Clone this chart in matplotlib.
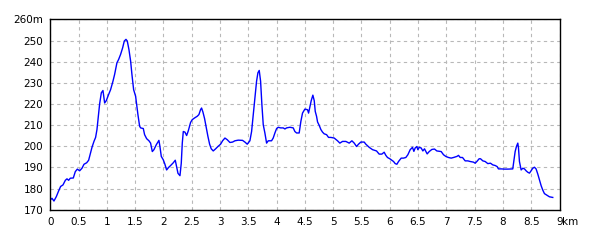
import matplotlib
matplotlib.use("Agg")
import matplotlib.pyplot as plt

# distance along route (km) and elevation (m)
dist_km = [
    0.000, 0.030, 0.065, 0.107, 0.148, 0.183, 0.224, 0.266, 0.295, 0.324,
    0.354, 0.407, 0.442, 0.478, 0.519, 0.560, 0.596, 0.643, 0.678, 0.707,
    0.737, 0.772, 0.801, 0.825, 0.843, 0.872, 0.902, 0.931, 0.961, 0.990,
    1.031, 1.066, 1.108, 1.137, 1.178, 1.208, 1.243, 1.279, 1.308, 1.338,
    1.361, 1.390, 1.420, 1.443, 1.473, 1.508, 1.549, 1.579, 1.597, 1.644,
    1.667, 1.703, 1.744, 1.773, 1.803, 1.832, 1.873, 1.920, 1.938, 1.962,
    1.997, 2.026, 2.056, 2.091, 2.127, 2.174, 2.209, 2.233, 2.257, 2.292,
    2.315, 2.333, 2.351, 2.380, 2.410, 2.439, 2.480, 2.509, 2.550, 2.597,
    2.627, 2.657, 2.674, 2.698, 2.727, 2.757, 2.786, 2.816, 2.845, 2.880,
    2.922, 2.963, 3.010, 3.045, 3.087, 3.128, 3.175, 3.222, 3.263, 3.322,
    3.398, 3.440, 3.481, 3.528, 3.558, 3.587, 3.617, 3.646, 3.670, 3.693,
    3.717, 3.740, 3.764, 3.793, 3.823, 3.852, 3.911, 3.940, 3.970, 4.000,
    4.029, 4.070, 4.117, 4.147, 4.176, 4.235, 4.294, 4.323, 4.353, 4.399,
    4.429, 4.458, 4.500, 4.547, 4.565, 4.588, 4.612, 4.641, 4.665, 4.683,
    4.706, 4.724, 4.753, 4.783, 4.812, 4.841, 4.883, 4.918, 4.959, 5.018,
    5.077, 5.118, 5.165, 5.224, 5.283, 5.331, 5.372, 5.413, 5.448, 5.489,
    5.548, 5.577, 5.637, 5.696, 5.766, 5.813, 5.860, 5.901, 5.931, 5.960,
    6.001, 6.037, 6.067, 6.096, 6.126, 6.155, 6.202, 6.243, 6.284, 6.320,
    6.361, 6.402, 6.426, 6.449, 6.479, 6.496, 6.520, 6.555, 6.585, 6.614,
    6.661, 6.697, 6.744, 6.791, 6.832, 6.909, 6.950, 6.991, 7.038, 7.085,
    7.127, 7.186, 7.215, 7.245, 7.286, 7.333, 7.380, 7.421, 7.480, 7.509,
    7.539, 7.580, 7.604, 7.645, 7.686, 7.733, 7.780, 7.821, 7.863, 7.898,
    7.921, 7.968, 8.028, 8.087, 8.174, 8.192, 8.216, 8.239, 8.263, 8.275,
    8.292, 8.322, 8.351, 8.381, 8.410, 8.440, 8.469, 8.498, 8.527, 8.557,
    8.586, 8.617, 8.645, 8.675, 8.704, 8.734, 8.775, 8.822, 8.881,
]
elev_m = [
    174.6, 175.4, 174.1, 176.2, 178.9, 181.0, 181.7, 183.9, 184.6, 183.9,
    184.9, 185.0, 188.0, 189.2, 188.4, 189.6, 191.5, 192.2, 193.4, 196.3,
    199.5, 202.3, 204.2, 207.9, 212.4, 220.0, 225.3, 226.4, 220.5, 221.6,
    224.5, 226.8, 230.8, 234.0, 239.5, 241.1, 243.5, 246.6, 249.8, 250.6,
    249.8, 245.8, 240.3, 234.0, 226.8, 223.7, 215.0, 209.5, 208.7, 208.4,
    205.5, 203.6, 202.6, 201.5, 197.5, 198.4, 200.7, 202.8, 199.9, 195.2,
    193.6, 191.5, 188.8, 190.0, 190.9, 192.2, 193.4, 190.4, 187.2, 186.1,
    192.0, 201.5, 207.0, 206.7, 205.1, 207.3, 211.3, 212.6, 213.4, 214.2,
    215.0, 217.4, 218.1, 216.2, 213.1, 208.7, 204.7, 201.0, 198.8, 197.8,
    198.8, 199.9, 201.0, 202.6, 203.9, 203.1, 201.8, 202.0, 202.6, 202.9,
    202.8, 202.0, 201.0, 202.6, 207.0, 215.0, 222.9, 230.8, 234.8, 235.9,
    230.8, 219.7, 210.2, 206.3, 201.5, 202.6, 202.6, 203.9, 206.3, 208.4,
    209.0, 208.7, 208.7, 208.2, 208.7, 209.0, 208.7, 207.0, 206.3, 206.3,
    211.8, 215.7, 217.6, 217.3, 215.7, 218.5, 221.6, 224.2, 221.6, 216.5,
    214.2, 211.5, 209.9, 207.9, 206.7, 205.9, 205.5, 204.2, 204.2, 203.9,
    202.6, 201.5, 202.3, 202.3, 201.5, 202.6, 201.5, 199.9, 201.0, 202.0,
    202.0, 201.0, 199.5, 198.4, 197.8, 196.3, 196.3, 197.2, 195.7, 194.7,
    194.1, 193.4, 192.8, 191.8, 191.5, 192.8, 194.4, 194.4, 194.7, 196.0,
    198.4, 199.5, 197.6, 199.2, 199.9, 198.4, 199.5, 199.2, 197.8, 198.8,
    196.4, 197.5, 198.5, 198.7, 197.8, 197.5, 196.0, 195.2, 194.7, 194.4,
    194.7, 195.2, 195.7, 194.7, 194.7, 193.1, 193.1, 192.8, 192.5, 192.0,
    192.8, 194.1, 194.1, 193.1, 192.8, 191.8, 192.0, 191.2, 190.9, 190.4,
    189.3, 189.3, 189.2, 189.2, 189.3, 192.8, 197.5, 199.9, 201.5, 199.2,
    192.8, 188.8, 189.6, 189.3, 188.4, 187.7, 187.3, 188.4, 189.6, 190.1,
    189.3, 186.8, 184.1, 181.4, 179.3, 177.6, 176.9, 176.1, 175.8,
]

x_ticks = [0, 0.5, 1, 1.5, 2, 2.5, 3, 3.5, 4, 4.5, 5, 5.5, 6, 6.5, 7, 7.5, 8, 8.5, 9]
x_labels = ["0", "0.5", "1", "1.5", "2", "2.5", "3", "3.5", "4", "4.5", "5",
            "5.5", "6", "6.5", "7", "7.5", "8", "8.5", "9"]
y_ticks = [170, 180, 190, 200, 210, 220, 230, 240, 250, 260]
y_labels = ["170", "180", "190", "200", "210", "220", "230", "240", "250", "260m"]

plt.rcParams['font.family'] = ['DejaVu Sans']

fig = plt.figure(figsize=(6, 2.4), dpi=100)
ax = fig.add_axes([0.0838, 0.1263, 0.8487, 0.7925])

ax.plot(dist_km, elev_m, color="#0000ff", linewidth=1.0)

ax.set_xlim(0, 9)
ax.set_ylim(170, 260)
ax.set_xticks(x_ticks)
ax.set_xticklabels(x_labels)
ax.set_yticks(y_ticks)
ax.set_yticklabels(y_labels)
ax.tick_params(length=0, labelsize=7.5, colors="black")
ax.tick_params(axis="x", pad=5)
ax.tick_params(axis="y", pad=5)

# unit after the last x tick label, on the same line
ax.annotate("km", xy=(1, 0), xycoords="axes fraction",
            xytext=(2, -5), textcoords="offset points",
            ha="left", va="top", fontsize=7.5)

ax.grid(color="#b8b8b8", linestyle=(0, (3, 3)), linewidth=0.8)
ax.set_axisbelow(True)
for sp in ax.spines.values():
    sp.set_color("black")
    sp.set_linewidth(1.0)

plt.savefig("out.png", dpi=100)
